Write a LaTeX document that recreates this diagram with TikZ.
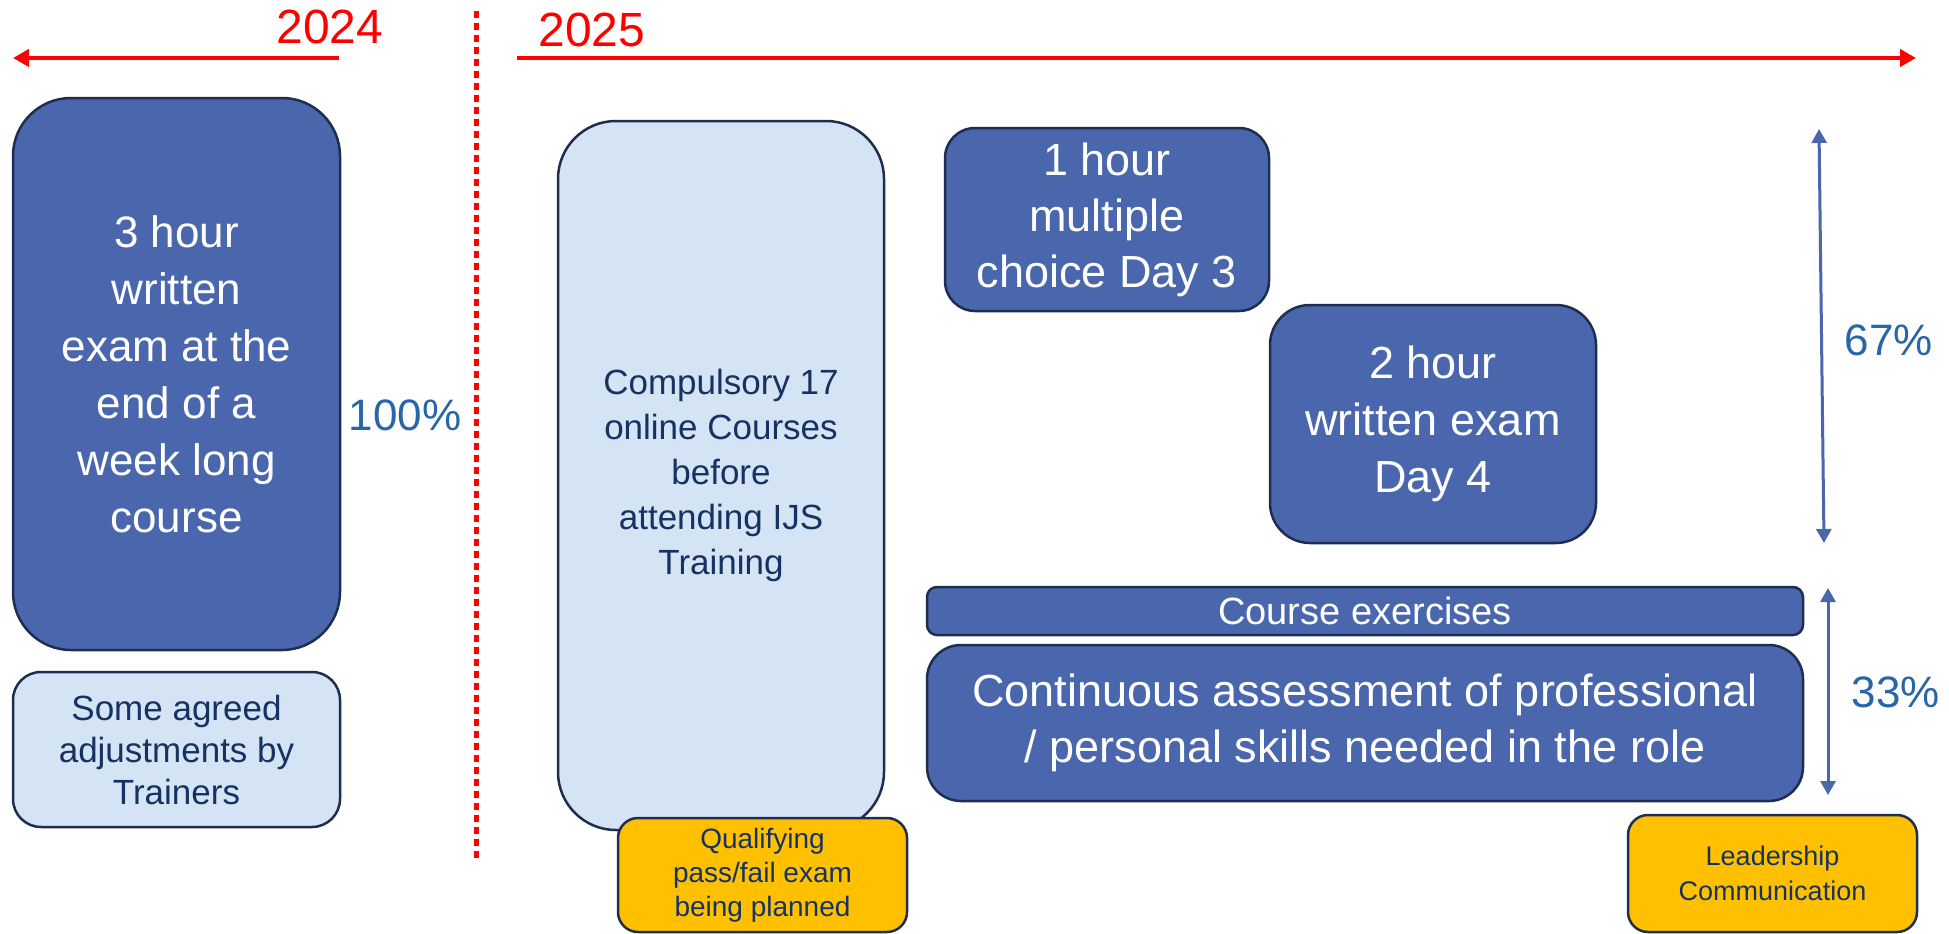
\documentclass[tikz,border=0pt]{standalone}
\usepackage{fontspec}
\setmainfont{Liberation Sans}
\usetikzlibrary{arrows.meta}
\definecolor{boxblue}{RGB}{74,103,173}
\definecolor{edgenavy}{RGB}{31,45,80}
\definecolor{paleblue}{RGB}{213,228,245}
\definecolor{navytext}{RGB}{22,50,98}
\definecolor{amber}{RGB}{255,192,0}
\definecolor{pctblue}{RGB}{39,103,169}
\definecolor{redline}{RGB}{255,0,0}
\begin{document}
\begin{tikzpicture}[x=1pt,y=-1pt,
  darkbox/.style={draw=edgenavy,line width=2.5pt,fill=boxblue,text=white,align=center,inner sep=0pt},
  lightbox/.style={draw=edgenavy,line width=2.5pt,fill=paleblue,text=navytext,align=center,inner sep=0pt},
  amberbox/.style={draw=edgenavy,line width=2.5pt,fill=amber,text=navytext,align=center,inner sep=0pt,rounded corners=20pt},
  pct/.style={text=pctblue,inner sep=0pt,font=\fontsize{44}{50}\selectfont},
  yearlbl/.style={text=redline,inner sep=0pt,font=\fontsize{48}{55}\selectfont},
  redarrow/.style={draw=redline,line width=4.5pt,-{Triangle[length=16pt,width=17pt]}},
  bluearrow/.style={draw=boxblue,line width=3pt,{Triangle[length=14pt,width=15pt]}-{Triangle[length=14pt,width=15pt]}},
  divider/.style={draw=redline,line width=5pt,dash pattern=on 7pt off 5pt}
]
\useasboundingbox[fill=white] (0,0) rectangle (1949,934);

% year labels and timeline arrows
\node[yearlbl] (y2024) at (330,27) {2024};
\node[yearlbl] (y2025) at (592,30) {2025};
\coordinate (a24s) at (339,58);
\coordinate (a24e) at (13,58);
\coordinate (a25s) at (517,58);
\coordinate (a25e) at (1916,58);
\draw[redarrow] (a24s) -- (a24e);
\draw[redarrow] (a25s) -- (a25e);

% divider
\coordinate (dtop) at (476,11);
\coordinate (dbot) at (476,862);
\draw[divider] (dtop) -- (dbot);

% 2024 column
\node[darkbox,rounded corners=58pt,minimum width=327pt,minimum height=552pt,
  font=\fontsize{44}{57}\selectfont] (exam3) at (176.5,374)
  {3 hour\\written\\exam at the\\end of a\\week long\\course};
\node[pct] (p100) at (405,415) {100\%};
\node[lightbox,rounded corners=28pt,minimum width=327pt,minimum height=155pt,
  font=\fontsize{35}{42}\selectfont] (adj) at (176.5,749.5)
  {Some agreed\\adjustments by\\Trainers};

% 2025 column
\node[lightbox,rounded corners=58pt,minimum width=326pt,minimum height=709pt,
  font=\fontsize{35}{45}\selectfont] (comp) at (721,475.5)
  {Compulsory 17\\online Courses\\before\\attending IJS\\Training};
\node[amberbox,minimum width=289pt,minimum height=114pt,
  font=\fontsize{28}{34}\selectfont] (qual) at (762.5,875)
  {Qualifying\\pass/fail exam\\being planned};

\node[darkbox,rounded corners=30pt,minimum width=324pt,minimum height=183pt,
  font=\fontsize{45}{56}\selectfont] (mc) at (1107,219.5)
  {1 hour\\multiple\\choice Day 3};
\node[darkbox,rounded corners=40pt,minimum width=326pt,minimum height=238pt,
  font=\fontsize{45}{57}\selectfont] (wr) at (1433,424)
  {2 hour\\written exam\\Day 4};
\node[darkbox,rounded corners=10pt,minimum width=876pt,minimum height=48pt,
  font=\fontsize{38}{44}\selectfont] (ex) at (1365,611) {Course exercises};
\node[darkbox,rounded corners=34pt,minimum width=876pt,minimum height=156pt,
  font=\fontsize{45}{56}\selectfont] (cont) at (1365,723)
  {Continuous assessment of professional\\/ personal skills needed in the role};

% percentage arrows
\coordinate (b67t) at (1819,129);
\coordinate (b67b) at (1824,543);
\draw[bluearrow] (b67t) -- (b67b);
\node[pct] (p67) at (1889,340) {67\%};
\coordinate (b33t) at (1828,588);
\coordinate (b33b) at (1828,795);
\draw[bluearrow] (b33t) -- (b33b);
\node[pct] (p33) at (1896,692) {33\%};

\node[amberbox,minimum width=289pt,minimum height=117pt,
  font=\fontsize{27}{35}\selectfont] (lead) at (1772.5,873.5)
  {Leadership\\Communication};
\end{tikzpicture}
\end{document}
